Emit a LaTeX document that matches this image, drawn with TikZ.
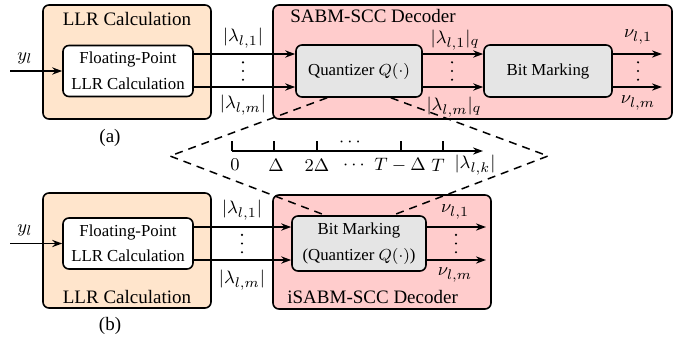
\documentclass[tikz,border=0pt]{standalone}
\usepackage[no-math]{fontspec}
\setmainfont{Liberation Serif}
\usetikzlibrary{arrows.meta,calc}

\tikzset{
  panel/.style={draw=black, line width=0.8pt, rounded corners=3pt, inner sep=0pt},
  llrpanel/.style={panel, fill=orange!20},
  decpanel/.style={panel, fill=red!20},
  block/.style={draw=black, line width=0.8pt, rounded corners=3pt, inner sep=0pt,
    align=center, font=\fontsize{8.4}{13}\selectfont},
  whiteblock/.style={block, fill=white},
  grayblock/.style={block, fill=gray!20},
  sig/.style={-{Stealth[length=5pt,width=3.6pt]}, line width=0.75pt},
  zoomline/.style={dashed, dash pattern=on 4pt off 3pt, line width=0.75pt},
  lbl/.style={inner sep=0pt, font=\fontsize{9.5}{11}\selectfont},
  title/.style={inner sep=0pt, font=\fontsize{9.5}{11}\selectfont},
  vdot/.style={fill=black, draw=none},
}

% vertical ellipsis between two parallel signal lines, centred at (#1,#2)
\newcommand{\signaldots}[2]{%
  \foreach \dy in {-8.7,0,8.7}
    \fill[vdot] (#1,#2+\dy) circle[radius=0.6pt];}

\begin{document}
\begin{tikzpicture}[x=0.5pt, y=-0.5pt]
\useasboundingbox (0,0) rectangle (686,343);

% ---------------- (a) SABM-SCC receiver ----------------
\node[llrpanel, minimum width=84pt, minimum height=57pt] (llrA) at (127,62) {};
\node[title] (llrAt) at (127,19) {LLR Calculation};
\node[whiteblock, minimum width=65pt, minimum height=25.5pt] (fpA) at (128,71)
  {Floating-Point\\LLR Calculation};

\node[decpanel, minimum width=199.5pt, minimum height=57pt] (decA) at (472.5,62) {};
\node[title, anchor=west] (decAt) at (290,16) {SABM-SCC Decoder};
\node[grayblock, minimum width=63pt, minimum height=26pt] (qA) at (359,71)
  {Quantizer $Q(\cdot)$};
\node[grayblock, minimum width=64pt, minimum height=26pt] (bmA) at (548,71)
  {Bit Marking};

\coordinate (yA) at (10,71);
\node[lbl] (yAl) at (25,58) {$y_l$};
\draw[sig] (yA) -- (fpA.west);

\draw[sig] ([yshift=8.5pt]fpA.east) -- ([yshift=8.5pt]qA.west);
\draw[sig] ([yshift=-8pt]fpA.east) -- ([yshift=-8pt]qA.west);
\node[lbl] (lamA1) at (243,38) {$|\lambda_{l,1}|$};
\signaldots{243}{71}
\node[lbl] (lamAm) at (243,105) {$|\lambda_{l,m}|$};

\draw[sig] ([yshift=8.5pt]qA.east) -- ([yshift=8.5pt]bmA.west);
\draw[sig] ([yshift=-8pt]qA.east) -- ([yshift=-8pt]bmA.west);
\node[lbl] (qA1) at (455,40) {$|\lambda_{l,1}|_q$};
\signaldots{452}{71}
\node[lbl] (qAm) at (454,107) {$|\lambda_{l,m}|_q$};

\coordinate (outA1) at (662,54);
\coordinate (outAm) at (662,87);
\draw[sig] ([yshift=8.5pt]bmA.east) -- (outA1);
\draw[sig] ([yshift=-8pt]bmA.east) -- (outAm);
\node[lbl] (nuA1) at (638,37) {$\nu_{l,1}$};
\signaldots{638}{71}
\node[lbl] (nuAm) at (638,103) {$\nu_{l,m}$};

\node[lbl] (capA) at (110,138) {(a)};

% ---------------- (b) iSABM-SCC receiver ----------------
\node[llrpanel, minimum width=84pt, minimum height=57.5pt] (llrB) at (127,250.5) {};
\node[title] (llrBt) at (127,297) {LLR Calculation};
\node[whiteblock, minimum width=65pt, minimum height=25.5pt,
  font=\fontsize{8.4}{12.5}\selectfont] (fpB) at (128,243.5)
  {Floating-Point\\LLR Calculation};

\node[decpanel, minimum width=109pt, minimum height=57pt] (decB) at (382,252) {};
\node[title, anchor=west] (decBt) at (287,297) {iSABM-SCC Decoder};
\node[grayblock, minimum width=67pt, minimum height=27.5pt] (bmB) at (359,243.5)
  {Bit Marking\\(Quantizer $Q(\cdot)$)};

\coordinate (yB) at (10,243.5);
\node[lbl] (yBl) at (25,230) {$y_l$};
\draw[sig] (yB) -- (fpB.west);

\draw[sig] ([yshift=8.25pt]fpB.east) -- ([yshift=8.25pt]bmB.west);
\draw[sig] ([yshift=-8.25pt]fpB.east) -- ([yshift=-8.25pt]bmB.west);
\node[lbl] (lamB1) at (242,210) {$|\lambda_{l,1}|$};
\signaldots{242}{243.5}
\node[lbl] (lamBm) at (242,280) {$|\lambda_{l,m}|$};

\coordinate (outB1) at (486,227);
\coordinate (outBm) at (486,260);
\draw[sig] ([yshift=8.25pt]bmB.east) -- (outB1);
\draw[sig] ([yshift=-8.25pt]bmB.east) -- (outBm);
\node[lbl] (nuB1) at (455,212) {$\nu_{l,1}$};
\signaldots{456}{243.5}
\node[lbl] (nuBm) at (455,275) {$\nu_{l,m}$};

\node[lbl] (capB) at (110,326) {(b)};

% ---------------- quantization axis ----------------
\coordinate (ax0) at (232,151);
\coordinate (axE) at (483,151);
\draw[sig] (ax0) -- (axE);
\foreach \tx in {232,274,317,401,443}
  \draw[line width=0.75pt] (\tx,151) -- (\tx,141);
\node[lbl] (t0) at (235,165) {$0$};
\node[lbl] (t1) at (276,165) {$\Delta$};
\node[lbl] (t2) at (317,165) {$2\Delta$};
\node[lbl] (tdots) at (354,165) {$\cdots$};
\node[lbl] (tTm) at (400,165) {$T-\Delta$};
\node[lbl] (tT) at (438,165) {$T$};
\node[lbl] (tlam) at (475,165) {$|\lambda_{l,k}|$};
\node[lbl] (tdotsup) at (350,142) {$\cdots$};

% ---------------- zoom-in lines ----------------
\coordinate (lv) at (170,156);
\coordinate (rv) at (548,156);
\draw[zoomline] ($(qA.south west)!0.25!(qA.south east)$) -- (lv)
  -- ($(bmB.north west)!0.25!(bmB.north east)$);
\draw[zoomline] ($(qA.south west)!0.75!(qA.south east)$) -- (rv)
  -- ($(bmB.north west)!0.75!(bmB.north east)$);
\end{tikzpicture}
\end{document}
